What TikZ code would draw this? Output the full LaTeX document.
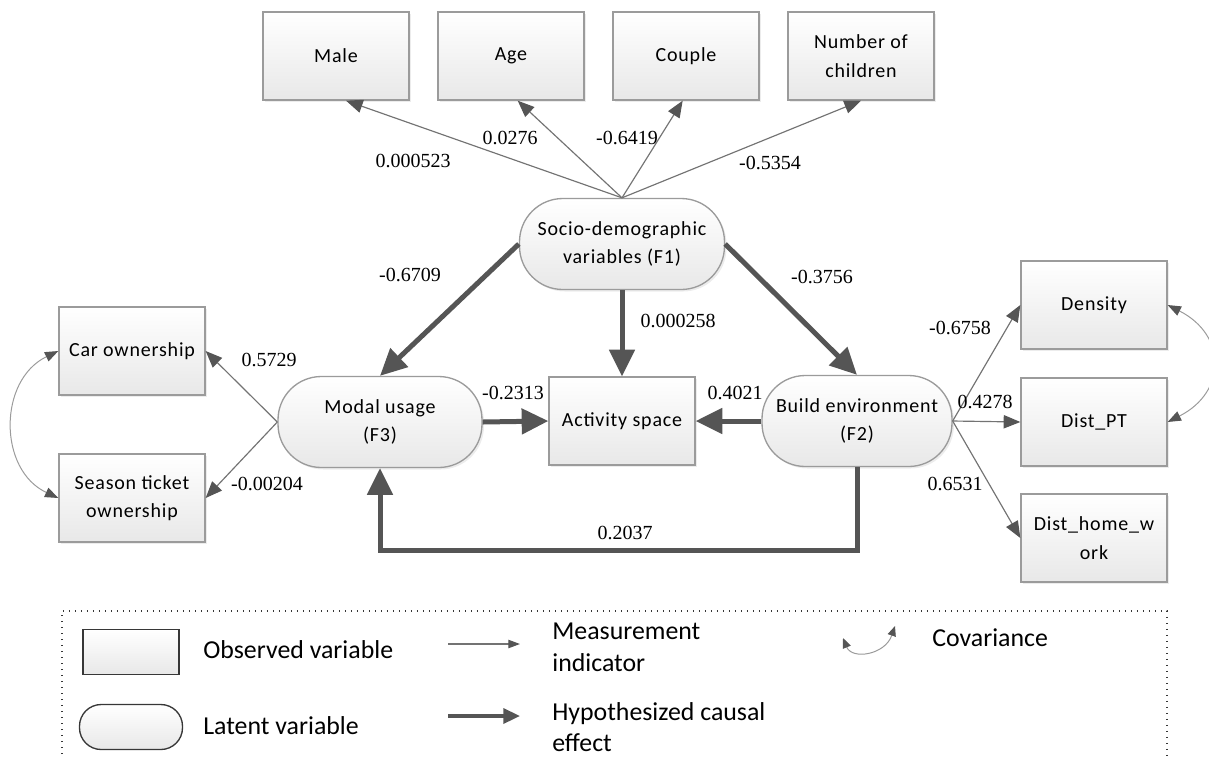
\documentclass[tikz,border=0pt]{standalone}
\usepackage{fontspec}
\setmainfont{Liberation Serif}
\newfontfamily\boxfont[LetterSpace=4]{Carlito}
\newfontfamily\legfont{Carlito}
\usepackage{xcolor}
\definecolor{Col1}{RGB}{85,85,85}
\definecolor{Col2}{RGB}{115,115,115}
\definecolor{Col3}{RGB}{155,155,155}
\definecolor{Col4}{RGB}{232,232,232}
\definecolor{Col5}{RGB}{55,55,55}
\usepackage{tikz}
\usetikzlibrary{arrows.meta}
\usetikzlibrary{shadows}
\tikzstyle{Plain}=[rectangle,draw=Col3,line width=.8pt,top color=white,
bottom color=Col4,inner sep=1pt,align=center,
font=\boxfont\fontsize{12}{17}\selectfont]
\tikzstyle{Observed}=[Plain,minimum width=87.6pt,minimum height=52.8pt,
drop shadow={shadow xshift=1.2pt,shadow yshift=-1.2pt,opacity=.15}]
\tikzstyle{Latent}=[Observed,rounded corners=26pt,minimum height=54.6pt]
\tikzstyle{Coef}=[font=\fontsize{12}{14}\selectfont,inner sep=0pt]
\tikzstyle{Legend}=[anchor=west,align=left,inner sep=0pt,
font=\legfont\fontsize{15.5}{19}\selectfont]
\tikzstyle{Measure}=[draw=Col2,line width=.7pt,
-{Triangle[length=10pt,width=8pt,color=Col1]}]
\tikzstyle{Causal}=[draw=Col1,line width=3pt,
-{Triangle[length=16pt,width=15pt]}]
\tikzstyle{Cov}=[draw=Col3,line width=.6pt,
{Triangle[length=8pt,width=6pt,color=Col1]}-{Triangle[length=8pt,width=6pt,color=Col1]}]
\tikzstyle{Frame}=[draw=Col5,line width=.8pt,dash pattern=on .8pt off 2.8pt]

\begin{document}
\begin{tikzpicture}[x=0.6pt,y=-0.6pt]
            \useasboundingbox(0,0)rectangle(1209,758);
            \node[Observed](male)at(336,56){Male};
            \node[Observed](age)at(511,56){Age};
            \node[Observed](couple)at(686,56){Couple};
            \node[Observed](child)at(861,56){Number of\\children};
            \node[Latent,minimum width=123pt](F1)at(622,244)
                {Socio-demographic\\variables (F1)};
            \node[Latent,minimum width=122.4pt](F3)at(380,422)
                {Modal usage\\(F3)};
            \node[Latent,minimum width=114pt](F2)at(857,421)
                {Build environment\\(F2)};
            \node[Observed](act)at(622,421){Activity space};
            \node[Observed](car)at(132,351){Car ownership};
            \node[Observed](season)at(132,498){Season ticket\\ownership};
            \node[Observed](dens)at(1094,305){Density};
            \node[Observed](distpt)at(1094,422){Dist\_PT};
            \node[Observed](disthw)at(1094,538){Dist\_home\_w\\ork};
            \draw[Measure](F1.north)--([xshift=6pt]male.south);
            \draw[Measure](F1.north)--([xshift=4pt]age.south);
            \draw[Measure](F1.north)--([xshift=-2pt]couple.south);
            \draw[Measure](F1.north)--(child.south);
            \draw[Causal](F1.west)--(F3.north);
            \draw[Causal](F1.east)--(F2.north);
            \draw[Causal](F1.south)--(act.north);
            \draw[Causal](F3.east)--(act.west);
            \draw[Causal](F2.west)--(act.east);
            \coordinate(bend)at(0,550);
            \draw[Causal](F2.south)--(F2.south|-bend)
                --(F3.south|-bend)--(F3.south);
            \draw[Measure](F3.west)--(car.east);
            \draw[Measure](F3.west)--(season.east);
            \draw[Measure](F2.east)--(dens.west);
            \draw[Measure](F2.east)--(distpt.west);
            \draw[Measure](F2.east)--(disthw.west);
            \draw[Cov](car.west)..controls(-2,380)and(-2,470)..(season.west);
            \draw[Cov](dens.east)..controls(1227,335)and(1227,392)..(distpt.east);
            \node[Coef](c1)at(413,161){0.000523};
            \node[Coef](c2)at(510,138){0.0276};
            \node[Coef](c3)at(627,138){-0.6419};
            \node[Coef](c4)at(770,163){-0.5354};
            \node[Coef](c5)at(410,275){-0.6709};
            \node[Coef](c6)at(678,321){0.000258};
            \node[Coef](c7)at(822,277){-0.3756};
            \node[Coef](c8)at(269,360){0.5729};
            \node[Coef](c9)at(267,484){-0.00204};
            \node[Coef](c10)at(513,393){-0.2313};
            \node[Coef](c11)at(735,393){0.4021};
            \node[Coef](c12)at(625,533){0.2037};
            \node[Coef](c13)at(960,328){-0.6758};
            \node[Coef](c14)at(985,402){0.4278};
            \node[Coef](c15)at(955,484){0.6531};
            %
            \draw[Frame](62,760)--(62,611)--(1167,611)--(1167,760);
            \node[Plain,draw=Col5,minimum width=57.6pt,minimum height=27pt]
                (lobs)at(131,652){};
            \node[Plain,draw=Col5,minimum width=61.8pt,minimum height=27pt,
                rounded corners=13pt](llat)at(131,727){};
            \node[Legend](tobs)at(203,650){Observed variable};
            \node[Legend](tlat)at(203,726){Latent variable};
            \coordinate(m1)at(448,644);
            \coordinate(m2)at(520,644);
            \draw[Measure,-{Triangle[length=7pt,width=5pt,color=Col1]}](m1)--(m2);
            \coordinate(h1)at(448,716);
            \coordinate(h2)at(520,716);
            \draw[Causal,line width=2pt,-{Triangle[length=10pt,width=9pt]}](h1)--(h2);
            \node[Legend](tmea)at(552,647){Measurement\\indicator};
            \node[Legend](thyp)at(552,727){Hypothesized causal\\effect};
            \coordinate(v1)at(843,638);
            \coordinate(v2)at(895,626);
            \draw[Cov,{Triangle[length=6pt,width=5pt,color=Col1]}-{Triangle[length=6pt,width=5pt,color=Col1]}]
                (v1)..controls(852,660)and(885,655)..(v2);
            \node[Legend](tcov)at(932,638){Covariance};
        \end{tikzpicture}
\end{document}
